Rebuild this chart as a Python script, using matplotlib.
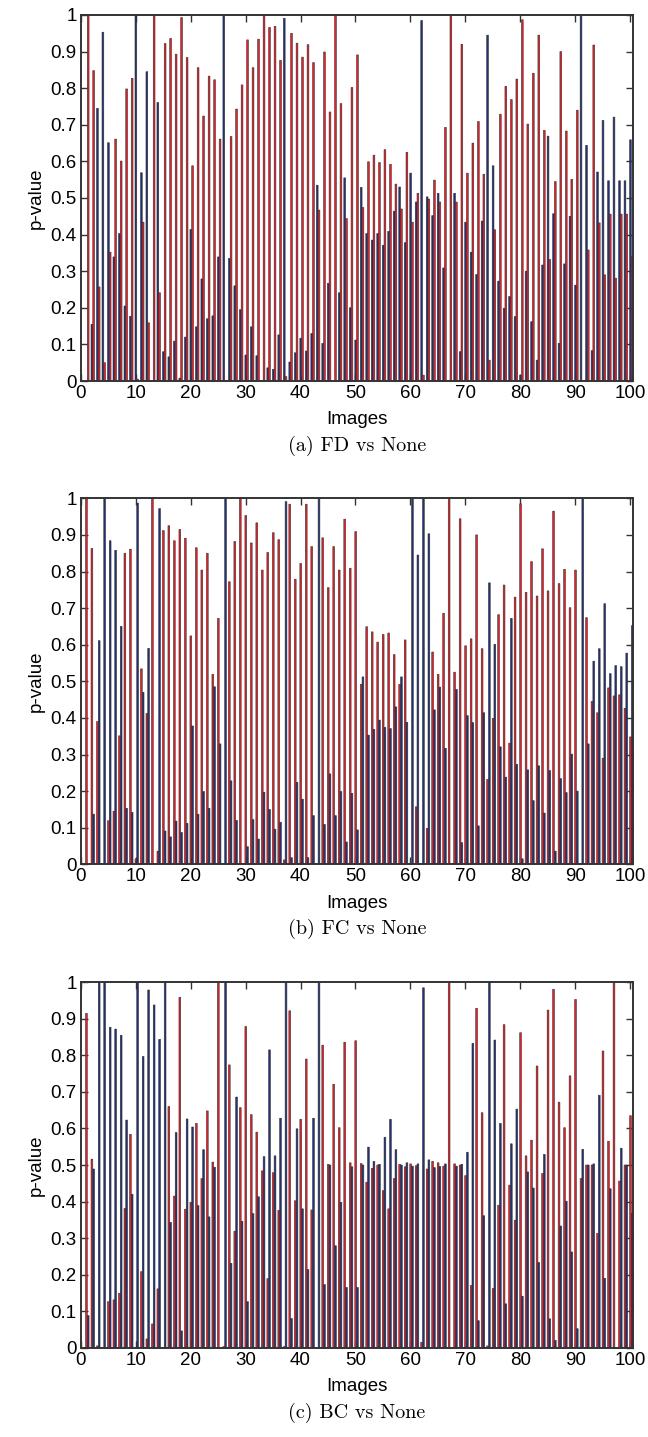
import numpy as np
import matplotlib
matplotlib.use("Agg")
import matplotlib.pyplot as plt

images = np.arange(1, 101)

p1_navy = [0.0, 0.155, 0.745, 0.953, 0.651, 0.339, 0.403, 0.205, 0.177, 1.0,
           0.569, 0.845, 0.0, 0.761, 0.080, 0.066, 0.109, 0.008, 0.120, 0.414,
           0.148, 0.279, 0.170, 0.178, 0.339, 1.0, 0.335, 0.260, 0.195, 0.071,
           0.148, 0.069, 0.0, 0.036, 0.032, 0.126, 0.991, 0.052, 0.077, 0.117,
           0.082, 0.130, 0.535, 0.103, 0.267, 0.0, 0.241, 0.555, 0.200, 0.112,
           0.529, 0.403, 0.385, 0.403, 0.371, 0.409, 0.464, 0.530, 0.378, 0.568,
           0.489, 0.985, 0.503, 0.452, 0.513, 0.309, 0.0, 0.513, 0.080, 0.434,
           0.352, 0.291, 0.437, 0.945, 0.588, 0.273, 0.199, 0.231, 0.176, 0.016,
           0.300, 0.162, 0.057, 0.317, 0.669, 0.457, 0.103, 0.320, 0.450, 0.262,
           1.0, 0.644, 0.083, 0.571, 0.712, 0.547, 0.721, 0.547, 0.547, 0.659]
p1_red = [1.0, 0.848, 0.257, 0.050, 0.352, 0.661, 0.601, 0.798, 0.827, 0.005,
          0.434, 0.159, 1.0, 0.241, 0.922, 0.936, 0.893, 0.993, 0.884, 0.588,
          0.856, 0.724, 0.833, 0.823, 0.661, 0.002, 0.668, 0.743, 0.809, 0.932,
          0.856, 0.934, 1.0, 0.966, 0.969, 0.876, 0.012, 0.950, 0.923, 0.885,
          0.919, 0.870, 0.467, 0.899, 0.735, 1.0, 0.758, 0.444, 0.802, 0.891,
          0.474, 0.599, 0.617, 0.597, 0.632, 0.592, 0.538, 0.470, 0.625, 0.434,
          0.513, 0.016, 0.497, 0.549, 0.489, 0.693, 1.0, 0.489, 0.920, 0.568,
          0.650, 0.709, 0.565, 0.057, 0.413, 0.729, 0.805, 0.769, 0.825, 0.987,
          0.702, 0.841, 0.945, 0.685, 0.332, 0.545, 0.900, 0.683, 0.551, 0.740,
          0.0, 0.358, 0.918, 0.432, 0.290, 0.456, 0.281, 0.456, 0.456, 0.341]

p2_red = [1.0, 0.863, 0.390, 0.0, 0.119, 0.145, 0.351, 0.850, 0.861, 0.015,
          0.534, 0.412, 1.0, 0.036, 0.912, 0.925, 0.884, 0.915, 0.891, 0.624,
          0.865, 0.804, 0.850, 0.519, 0.672, 0.0, 0.772, 0.882, 1.0, 0.953,
          0.878, 0.933, 0.804, 0.852, 0.906, 0.887, 0.012, 0.984, 0.779, 0.822,
          0.984, 0.868, 0.0, 0.892, 0.756, 0.868, 0.804, 0.943, 0.809, 0.909,
          0.492, 0.649, 0.635, 0.607, 0.628, 0.632, 0.573, 0.492, 0.613, 0.0,
          0.157, 0.0, 0.098, 0.580, 0.519, 0.686, 1.0, 0.525, 0.944, 0.597,
          0.616, 0.900, 0.589, 0.232, 0.399, 0.682, 0.763, 0.331, 0.730, 0.985,
          0.743, 0.827, 0.733, 0.862, 0.747, 0.965, 0.767, 0.806, 0.701, 0.804,
          0.0, 0.674, 0.445, 0.414, 0.290, 0.482, 0.460, 0.463, 0.426, 0.348]
p2_navy = [0.0, 0.137, 0.611, 1.0, 0.884, 0.858, 0.650, 0.153, 0.142, 0.987,
           0.470, 0.590, 0.0, 0.972, 0.091, 0.075, 0.118, 0.087, 0.112, 0.378,
           0.137, 0.199, 0.153, 0.485, 0.329, 1.0, 0.228, 0.120, 0.002, 0.048,
           0.122, 0.069, 0.197, 0.150, 0.096, 0.115, 0.991, 0.018, 0.224, 0.178,
           0.018, 0.133, 1.0, 0.109, 0.247, 0.133, 0.199, 0.061, 0.194, 0.094,
           0.512, 0.353, 0.369, 0.394, 0.374, 0.371, 0.430, 0.512, 0.388, 1.0,
           0.845, 1.0, 0.903, 0.422, 0.484, 0.317, 0.002, 0.478, 0.059, 0.406,
           0.387, 0.105, 0.414, 0.769, 0.601, 0.321, 0.238, 0.672, 0.273, 0.015,
           0.258, 0.174, 0.269, 0.140, 0.256, 0.036, 0.234, 0.196, 0.301, 0.200,
           1.0, 0.329, 0.555, 0.589, 0.712, 0.521, 0.543, 0.540, 0.577, 0.652]

p3_red = [0.915, 0.516, 0.005, 0.0, 0.126, 0.131, 0.149, 0.381, 0.584, 0.0,
          0.208, 0.024, 0.065, 0.161, 0.0, 0.660, 0.415, 0.959, 0.379, 0.398,
          0.614, 0.463, 0.648, 0.508, 1.0, 0.003, 0.774, 0.319, 0.657, 0.879,
          0.638, 0.590, 0.484, 0.189, 0.479, 0.376, 0.003, 0.922, 0.402, 0.625,
          0.790, 0.377, 0.0, 0.828, 0.502, 0.721, 0.602, 0.836, 0.506, 0.840,
          0.504, 0.453, 0.491, 0.500, 0.430, 0.380, 0.463, 0.502, 0.495, 0.503,
          0.498, 0.015, 0.489, 0.510, 0.506, 0.497, 1.0, 0.503, 0.500, 0.471,
          0.170, 0.929, 0.643, 0.005, 0.162, 0.390, 0.884, 0.445, 0.349, 0.862,
          0.525, 0.568, 0.771, 0.477, 0.924, 0.981, 0.672, 0.602, 0.744, 0.953,
          0.463, 0.500, 0.500, 0.313, 0.812, 0.565, 1.0, 0.456, 0.500, 0.635]
p3_navy = [0.088, 0.489, 1.0, 1.0, 0.877, 0.872, 0.855, 0.623, 0.420, 1.0,
           0.797, 0.979, 0.938, 0.844, 1.0, 0.343, 0.589, 0.046, 0.626, 0.604,
           0.389, 0.542, 0.358, 0.494, 0.0, 1.0, 0.231, 0.686, 0.346, 0.126,
           0.367, 0.413, 0.523, 0.815, 0.525, 0.628, 1.0, 0.080, 0.599, 0.380,
           0.214, 0.628, 1.0, 0.173, 0.500, 0.279, 0.398, 0.165, 0.495, 0.165,
           0.500, 0.549, 0.510, 0.502, 0.576, 0.625, 0.542, 0.500, 0.506, 0.497,
           0.503, 0.985, 0.514, 0.493, 0.496, 0.503, 0.0, 0.497, 0.502, 0.535,
           0.833, 0.074, 0.361, 1.0, 0.842, 0.614, 0.120, 0.558, 0.653, 0.141,
           0.481, 0.437, 0.233, 0.529, 0.079, 0.020, 0.333, 0.401, 0.262, 0.052,
           0.543, 0.500, 0.503, 0.691, 0.190, 0.435, 0.0, 0.546, 0.500, 0.368]

captions = ["(a) FD vs None", "(b) FC vs None", "(c) BC vs None"]
xticks = [0, 10, 20, 30, 40, 50, 60, 70, 80, 90, 100]
yticks = [0, 0.1, 0.2, 0.3, 0.4, 0.5, 0.6, 0.7, 0.8, 0.9, 1]
ytick_labels = ["0", "0.1", "0.2", "0.3", "0.4", "0.5", "0.6", "0.7", "0.8", "0.9", "1"]

RED = "#ee1c25"
NAVY = "#22327a"

W, H = 648, 1437
fig = plt.figure(figsize=(W / 100, H / 100), dpi=100)
fig.patch.set_facecolor("white")

sans = ["Liberation Sans", "DejaVu Sans"]
panels = [
    (p1_navy, NAVY, p1_red, RED, 15.0, 381.0),
    (p2_red, RED, p2_navy, NAVY, 498.3, 864.3),
    (p3_red, RED, p3_navy, NAVY, 982.3, 1347.7),
]
left_px, right_px = 80.7, 633.0
bw = 0.32
for k, (lv, lc, rv, rc, top, bot) in enumerate(panels):
    ax = fig.add_axes([left_px / W, 1 - bot / H, (right_px - left_px) / W, (bot - top) / H])
    for off, vals, col in ((0.04, lv, lc), (0.36, rv, rc)):
        bars = ax.bar(images + off, vals, width=bw, color=col, edgecolor="#303030",
                      linewidth=0.4, zorder=2)
        for b in bars:
            b.set_snap(False)
    ax.set_xlim(0.5, 100.5)
    ax.set_ylim(0, 1)
    ax.set_xticks(xticks)
    ax.set_xticklabels([str(t) for t in xticks], fontfamily=sans, fontsize=13.5)
    ax.set_yticks(yticks)
    ax.set_yticklabels(ytick_labels, fontfamily=sans, fontsize=13.5)
    ax.tick_params(direction="in", length=5, width=1.0, top=True, right=True,
                   color="#333333", pad=3)
    for s in ax.spines.values():
        s.set_linewidth(1.4)
        s.set_color("#333333")
        s.set_zorder(3)
    ax.set_ylabel("p-value", fontfamily=sans, fontsize=13.5, labelpad=4)
    cx = (left_px + right_px) / 2 / W
    fig.text(cx, 1 - (bot + 39) / H, "Images", ha="center", va="center",
             fontfamily=sans, fontsize=13.5)
    fig.text(cx, 1 - (bot + 65) / H, captions[k], ha="center", va="center",
             fontfamily=["cmr10", "DejaVu Serif"], fontsize=14.5)

fig.savefig("out.png", dpi=100, facecolor="white")
